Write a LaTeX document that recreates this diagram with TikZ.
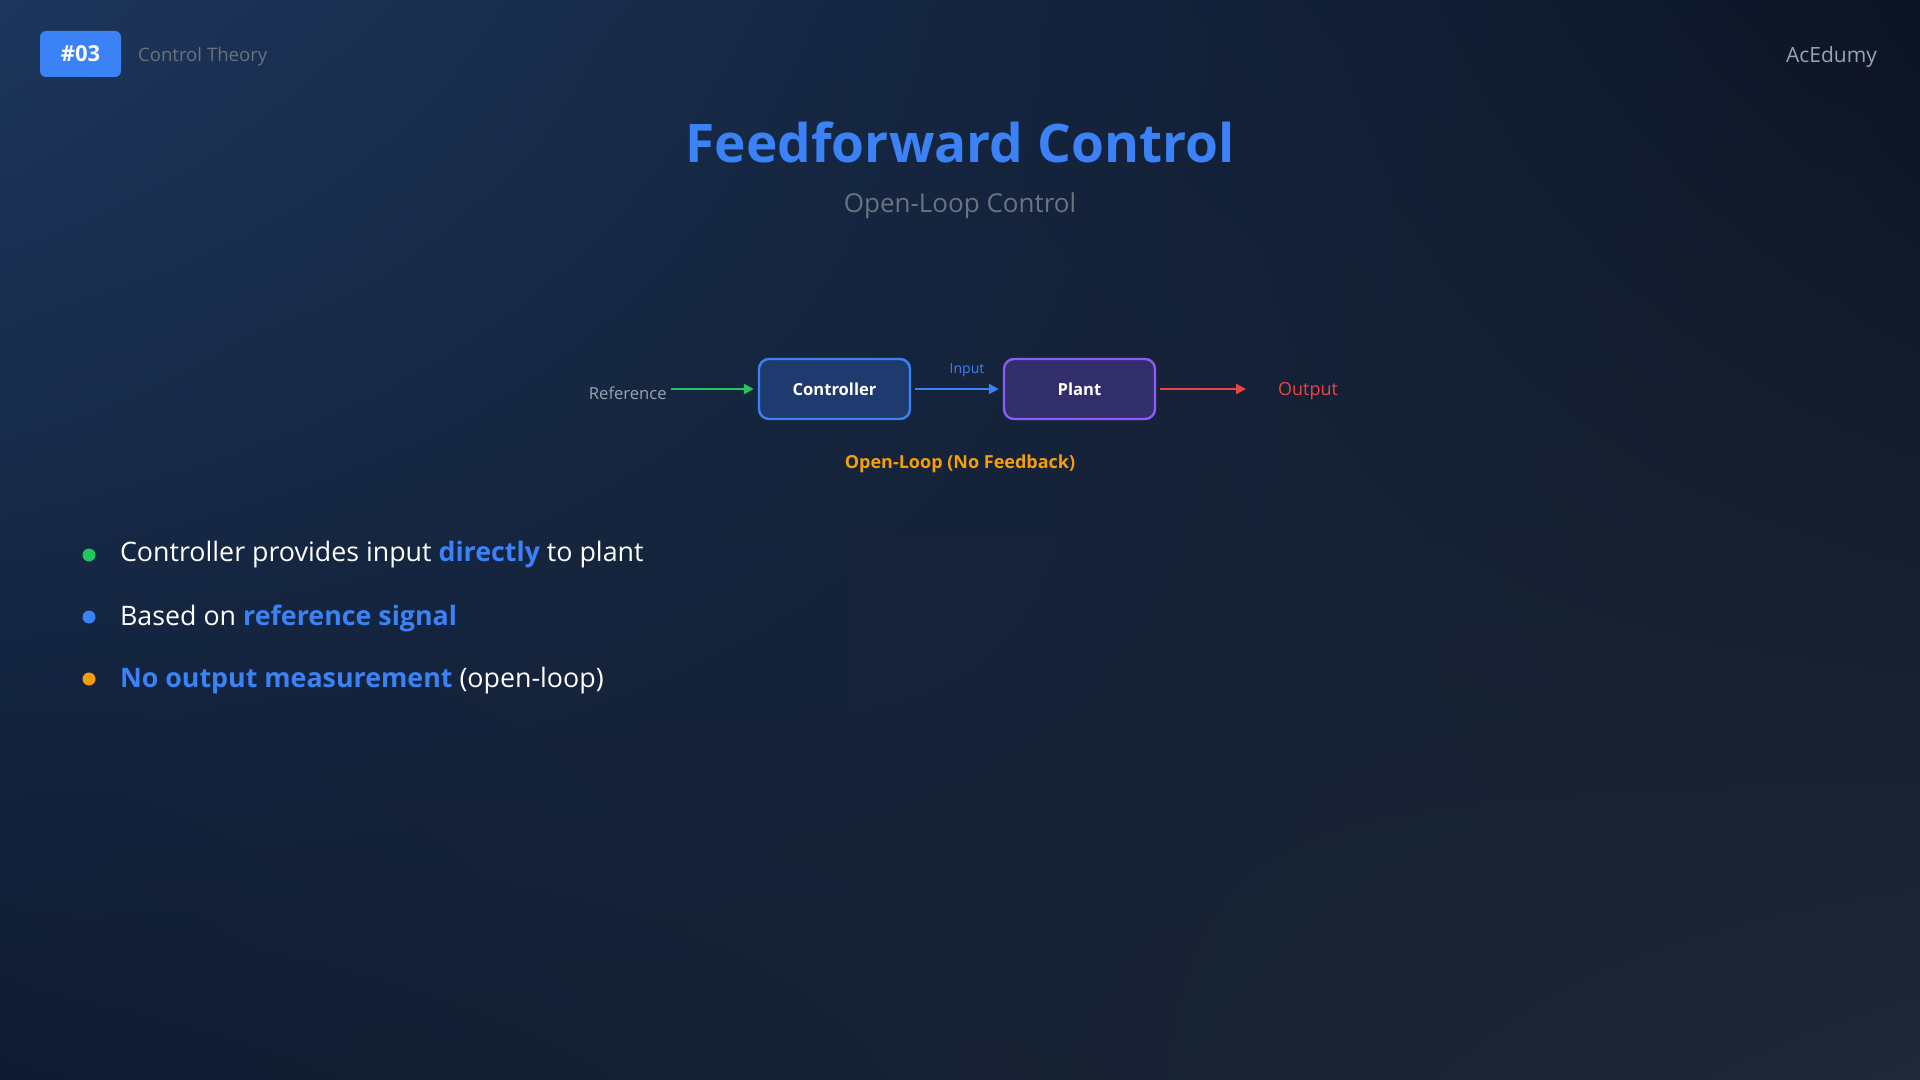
\documentclass[tikz,border=0pt]{standalone}
\usepackage{fontspec}
\setmainfont{Open Sans}
\usetikzlibrary{arrows.meta,shadings}
\definecolor{bgA}{HTML}{1D365C}
\definecolor{bgB}{HTML}{0C1424}
\definecolor{bgC}{HTML}{1F2836}
\definecolor{bgD}{HTML}{0E1A30}
\definecolor{accent}{HTML}{3B82F6}
\definecolor{grayt}{HTML}{6B7280}
\definecolor{grayl}{HTML}{9CA3AF}
\definecolor{ctrlfill}{HTML}{1E3A6E}
\definecolor{plantfill}{HTML}{312E6B}
\definecolor{plantline}{HTML}{8B5CF6}
\definecolor{greenc}{HTML}{22C55E}
\definecolor{redc}{HTML}{EF4444}
\definecolor{orangec}{HTML}{F59E0B}
\begin{document}
\begin{tikzpicture}[x=0.5pt,y=-0.5pt,
  block/.style={rounded corners=5pt,line width=1.2pt,minimum width=75.5pt,minimum height=30pt,text=white,font=\bfseries\fontsize{8.3}{10}\selectfont},
  arr/.style={line width=1.3pt,-{Triangle[length=5pt,width=5pt]}},
  bul/.style={anchor=west,text=white,font=\fontsize{13.4}{16}\selectfont},
  dot/.style={circle,inner sep=0pt,minimum size=6.5pt}]
\shade[upper left=bgA,upper right=bgB,lower right=bgC,lower left=bgD] (0,0) rectangle (1920,1080);
\useasboundingbox (0,0) rectangle (1920,1080);
\node[fill=accent,rounded corners=3pt,minimum width=40.5pt,minimum height=23pt,text=white,font=\bfseries\fontsize{11}{13}\selectfont] (badge) at (80.5,54) {\#03};
\node[anchor=west,text=grayt,font=\fontsize{9.3}{11}\selectfont] (topic) at (131,57) {Control Theory};
\node[anchor=east,text=grayl,font=\fontsize{10.5}{12}\selectfont] (brand) at (1884,57) {AcEdumy};
\node[text=accent,font=\bfseries\fontsize{26.6}{32}\selectfont] (title) at (960,142) {Feedforward Control};
\node[text=grayt,font=\fontsize{13}{15}\selectfont] (sub) at (960,206) {Open-Loop Control};
\node[block,fill=ctrlfill,draw=accent] (ctrl) at (834.5,389) {Controller};
\node[block,fill=plantfill,draw=plantline] (plant) at (1079.5,389) {Plant};
\node[anchor=east,inner sep=1pt,text=grayl,font=\fontsize{8.3}{10}\selectfont] (ref) at (669,393) {Reference};
\node[text=redc,font=\fontsize{9}{11}\selectfont] (out) at (1308,391) {Output};
\coordinate (refend) at (671,389);
\coordinate (outstart) at (1160,389);
\coordinate (outend) at (1246,389);
\draw[arr,greenc] (refend) -- ([xshift=-2pt]ctrl.west|-refend);
\draw[arr,accent] ([xshift=2pt]ctrl.east) -- node[pos=0.62,above=2pt,text=accent,font=\fontsize{7}{8}\selectfont] {Input} ([xshift=-2pt]plant.west);
\draw[arr,redc] (outstart) -- (outend);
\node[text=orangec,font=\bfseries\fontsize{9}{11}\selectfont] (note) at (960,464) {Open-Loop (No Feedback)};
\node[dot,fill=greenc] (d1) at (89,555) {};
\node[dot,fill=accent] (d2) at (89,617) {};
\node[dot,fill=orangec] (d3) at (89,679) {};
\node[bul] (b1) at (113,555) {Controller provides input \textcolor{accent}{\bfseries directly} to plant};
\node[bul] (b2) at (113,618) {Based on \textcolor{accent}{\bfseries reference signal}};
\node[bul] (b3) at (113,681) {\textcolor{accent}{\bfseries No output measurement} (open-loop)};
\end{tikzpicture}
\end{document}
